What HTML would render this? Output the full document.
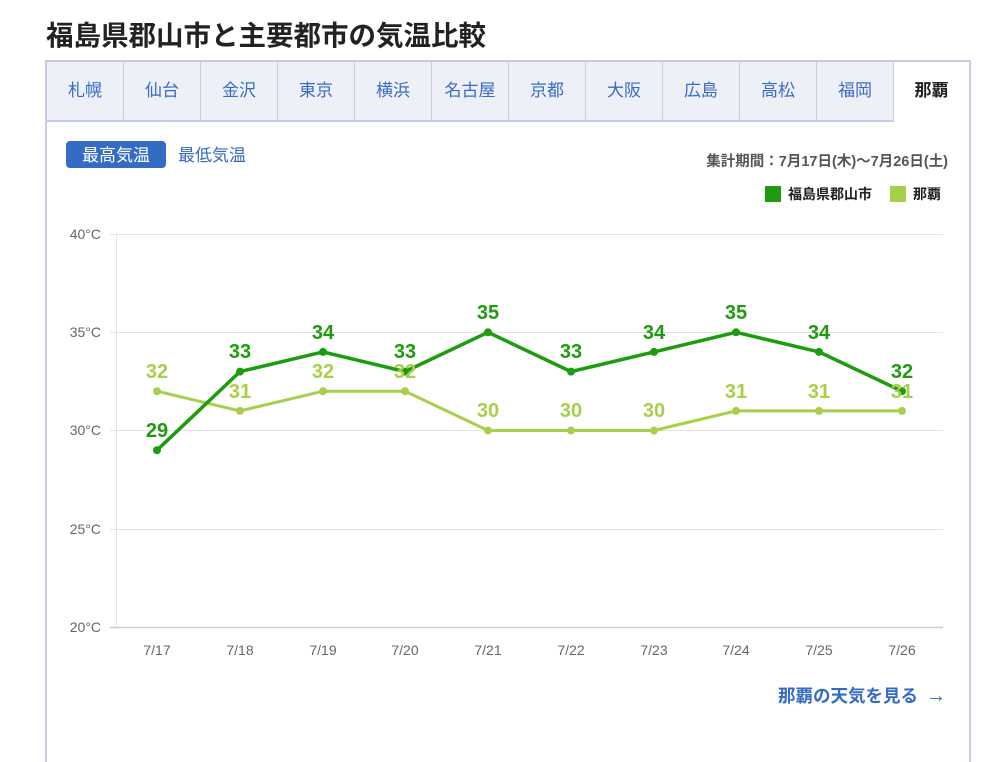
<!DOCTYPE html>
<html><head><meta charset="utf-8"><style>
body{margin:0;background:#fff;font-family:"Liberation Sans","Noto Sans CJK JP",sans-serif;}
.t{position:absolute;left:46px;top:13px;font-size:27.5px;font-weight:bold;color:#222;}
.box{position:absolute;left:45px;top:60px;width:922px;height:700px;border:2px solid #c8cce0;border-bottom:none;}
.tabs{position:absolute;left:0;top:0;height:58px;width:922px;}
.tab{position:absolute;top:0;height:58px;background:#eef0f8;border-right:1px solid #c8cce0;border-bottom:2px solid #c8cce0;color:#3a6bc4;font-size:17px;line-height:58px;text-align:center;box-sizing:content-box;}
.tab.act{background:#fff;border:none;color:#222;font-weight:bold;}
</style></head><body>
<div class="t">福島県郡山市と主要都市の気温比較</div>
<div class="box"><div class="tabs">
<div class="tab" style="left:0;width:76px">札幌</div>
<div class="tab" style="left:77px;width:76px">仙台</div>
<div class="tab" style="left:154px;width:76px">金沢</div>
<div class="tab" style="left:231px;width:76px">東京</div>
<div class="tab" style="left:308px;width:76px">横浜</div>
<div class="tab" style="left:385px;width:76px">名古屋</div>
<div class="tab" style="left:462px;width:76px">京都</div>
<div class="tab" style="left:539px;width:76px">大阪</div>
<div class="tab" style="left:616px;width:76px">広島</div>
<div class="tab" style="left:693px;width:76px">高松</div>
<div class="tab" style="left:770px;width:76px">福岡</div>
<div class="tab act" style="left:847px;width:75px">那覇</div>
</div></div>
<svg width="982" height="726" style="position:absolute;left:0;top:0" font-family="Liberation Sans, Noto Sans CJK JP, sans-serif">
<rect x="66" y="141" width="100" height="27" rx="4" fill="#346bc3"/>
<text x="116" y="161" font-size="17" fill="#fff" text-anchor="middle">最高気温</text>
<text x="178" y="161" font-size="17" fill="#346bc3">最低気温</text>
<text x="948" y="166" font-size="14.5" font-weight="bold" fill="#555" text-anchor="end">集計期間：7月17日(木)〜7月26日(土)</text>
<rect x="765" y="186" width="16" height="16" fill="#1e9c0f"/>
<text x="788" y="199" font-size="14" font-weight="bold" fill="#222">福島県郡山市</text>
<rect x="890" y="186" width="16" height="16" fill="#a8cf4a"/>
<text x="913" y="199" font-size="14" font-weight="bold" fill="#222">那覇</text>
<g stroke="#e3e3e3" stroke-width="1">
<line x1="110" y1="234.5" x2="943" y2="234.5"/><line x1="110" y1="332.5" x2="943" y2="332.5"/>
<line x1="110" y1="430.5" x2="943" y2="430.5"/><line x1="110" y1="529.5" x2="943" y2="529.5"/>
<line x1="116.5" y1="234" x2="116.5" y2="627"/>
</g>
<line x1="110" y1="627.5" x2="943" y2="627.5" stroke="#ccc" stroke-width="1.5"/>
<g font-size="14" fill="#666" text-anchor="end">
<text x="101" y="239">40°C</text><text x="101" y="337">35°C</text><text x="101" y="435">30°C</text><text x="101" y="534">25°C</text><text x="101" y="632">20°C</text>
</g>
<g font-size="14" fill="#666" text-anchor="middle">
<text x="157" y="655">7/17</text><text x="240" y="655">7/18</text><text x="323" y="655">7/19</text><text x="405" y="655">7/20</text><text x="488" y="655">7/21</text><text x="571" y="655">7/22</text><text x="654" y="655">7/23</text><text x="736" y="655">7/24</text><text x="819" y="655">7/25</text><text x="902" y="655">7/26</text>
</g>
<polyline fill="none" stroke="#a8cf4a" stroke-width="3" points="157,391.2 240,410.9 323,391.2 405,391.2 488,430.5 571,430.5 654,430.5 736,410.9 819,410.9 902,410.9"/>
<g fill="#a8cf4a"><circle cx="157" cy="391.2" r="4"/><circle cx="240" cy="410.9" r="4"/><circle cx="323" cy="391.2" r="4"/><circle cx="405" cy="391.2" r="4"/><circle cx="488" cy="430.5" r="4"/><circle cx="571" cy="430.5" r="4"/><circle cx="654" cy="430.5" r="4"/><circle cx="736" cy="410.9" r="4"/><circle cx="819" cy="410.9" r="4"/><circle cx="902" cy="410.9" r="4"/></g>
<polyline fill="none" stroke="#1e9c0f" stroke-width="3.5" points="157,450.2 240,371.6 323,351.9 405,371.6 488,332.3 571,371.6 654,351.9 736,332.3 819,351.9 902,391.2"/>
<g fill="#1e9c0f"><circle cx="157" cy="450.2" r="4"/><circle cx="240" cy="371.6" r="4"/><circle cx="323" cy="351.9" r="4"/><circle cx="405" cy="371.6" r="4"/><circle cx="488" cy="332.3" r="4"/><circle cx="571" cy="371.6" r="4"/><circle cx="654" cy="351.9" r="4"/><circle cx="736" cy="332.3" r="4"/><circle cx="819" cy="351.9" r="4"/><circle cx="902" cy="391.2" r="4"/></g>
<g font-size="20" font-weight="bold" fill="#a8cf4a" text-anchor="middle">
<text x="157" y="378">32</text><text x="240" y="398">31</text><text x="323" y="378">32</text><text x="405" y="378">32</text><text x="488" y="417">30</text><text x="571" y="417">30</text><text x="654" y="417">30</text><text x="736" y="398">31</text><text x="819" y="398">31</text><text x="902" y="398">31</text>
</g>
<g font-size="20" font-weight="bold" fill="#1e9c0f" text-anchor="middle">
<text x="157" y="437">29</text><text x="240" y="358">33</text><text x="323" y="339">34</text><text x="405" y="358">33</text><text x="488" y="319">35</text><text x="571" y="358">33</text><text x="654" y="339">34</text><text x="736" y="319">35</text><text x="819" y="339">34</text><text x="902" y="378">32</text>
</g>
<text x="918" y="702" font-size="17.5" font-weight="bold" fill="#346bc3" text-anchor="end">那覇の天気を見る</text>
<text x="946" y="702" font-size="20" fill="#346bc3" text-anchor="end">→</text>
</svg>
</body></html>
